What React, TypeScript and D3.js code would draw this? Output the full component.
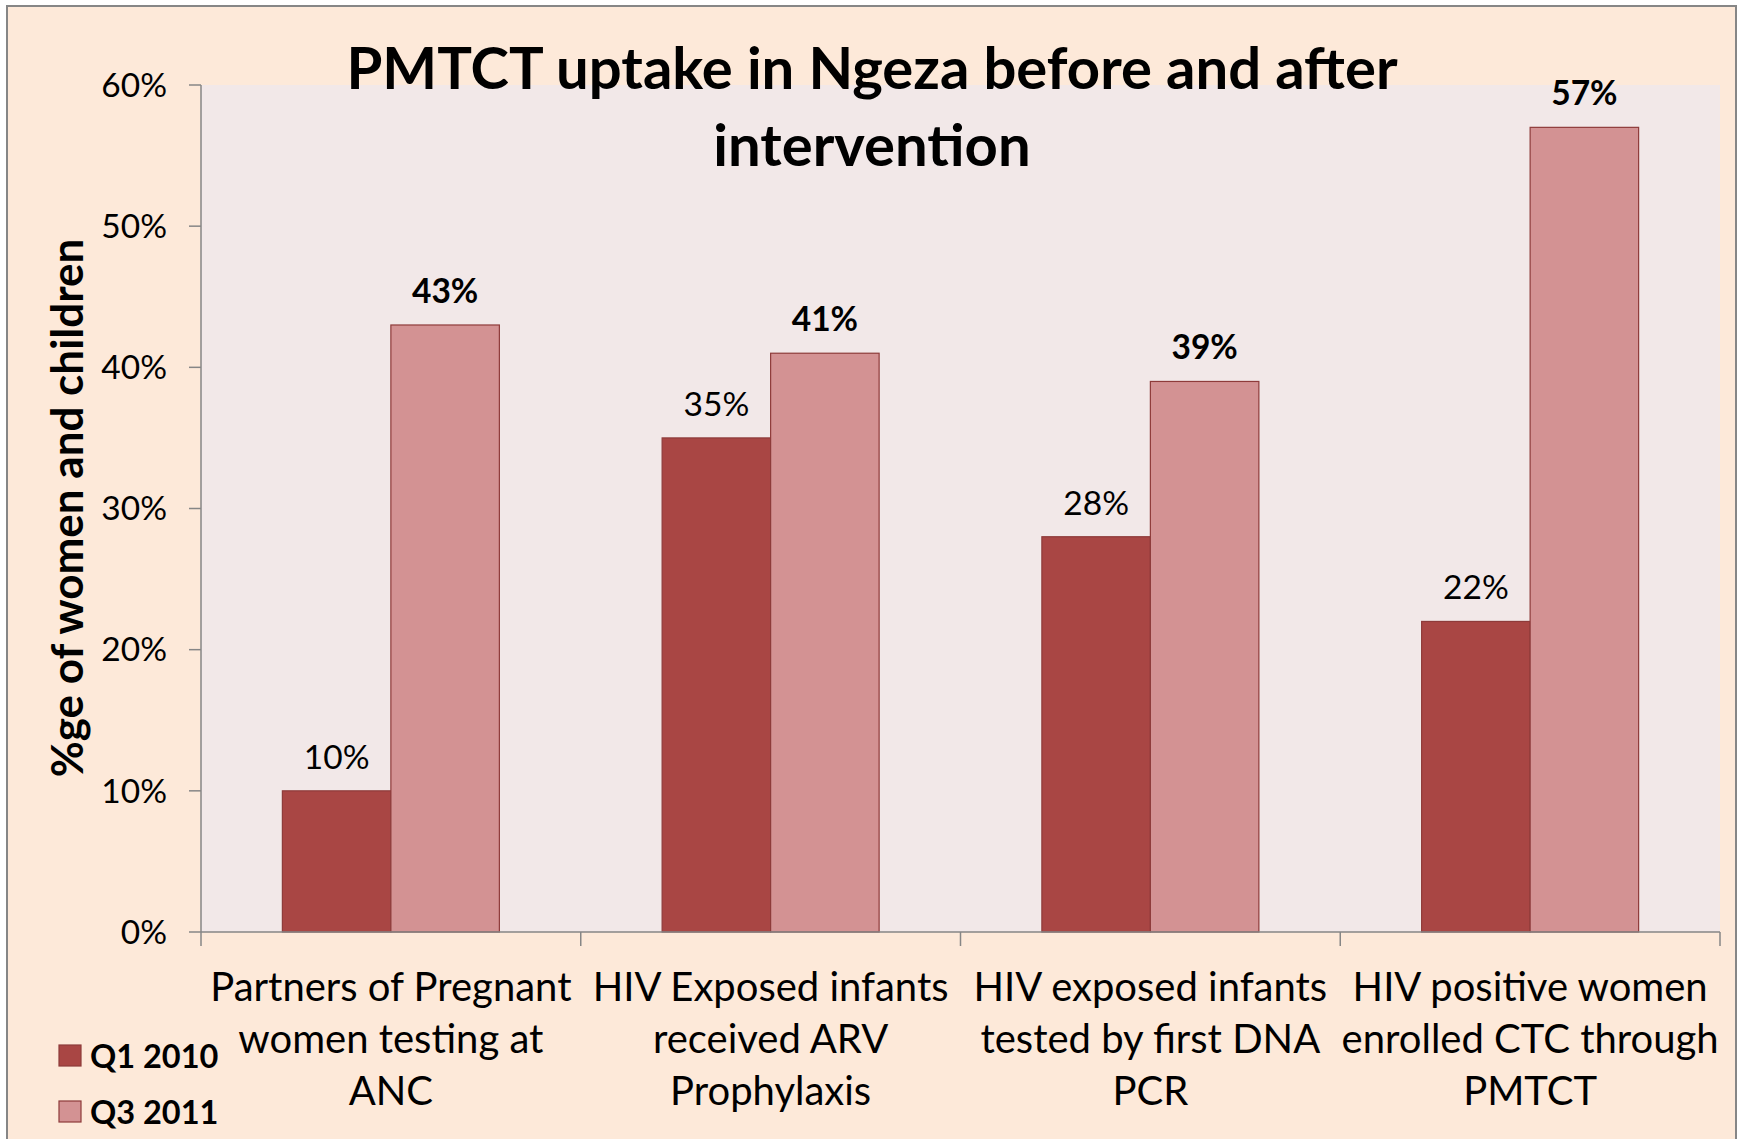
import React from "react";
import * as d3 from "d3";

const categories = [
  ["Partners of Pregnant", "women testing at", "ANC"],
  ["HIV Exposed infants", "received ARV", "Prophylaxis"],
  ["HIV exposed infants", "tested by first DNA", "PCR"],
  ["HIV positive women", "enrolled CTC through", "PMTCT"],
];
const seriesNames = ["Q1 2010", "Q3 2011"];
const q1Values = [10, 35, 28, 22];
const q3Values = [43, 41, 39, 57];
const yTicks = [0, 10, 20, 30, 40, 50, 60];
const colors = ["#A94644", "#D39293"];

const W = 1742, H = 1139;
const plot = { left: 201, right: 1720, top: 85, bottom: 932 };
const font = "Lato, 'Open Sans', sans-serif";

export default function App() {
  const x = d3.scaleBand<number>()
    .domain(d3.range(categories.length))
    .range([plot.left, plot.right]);
  const bw = x.bandwidth() / 3.5;
  const y = d3.scaleLinear().domain([0, 60]).range([plot.bottom, plot.top]);
  const series = [q1Values, q3Values];

  return (
    <svg width={W} height={H} style={{ position: "absolute", left: 0, top: 0 }} fontFamily={font}>
      <rect x={0} y={0} width={W} height={H} fill="#fff" />
      <rect x={7} y={6} width={1729} height={H} fill="#FDE9D9" stroke="#868686" strokeWidth={2} />
      <rect x={plot.left} y={plot.top} width={plot.right - plot.left} height={plot.bottom - plot.top} fill="#F2E8E8" />

      {series.map((vals, s) =>
        vals.map((v, i) => {
          const bx = x(i)! + bw * 0.75 + s * bw;
          return (
            <g key={`${s}-${i}`}>
              <rect x={bx} y={y(v)} width={bw} height={y(0) - y(v)} fill={colors[s]} stroke="#8E3B3A" strokeWidth={1.2} />
              <text x={bx + bw / 2} y={y(v) - 22} textAnchor="middle" fontSize={33.5}
                fontWeight={s === 1 ? "bold" : "normal"}>{`${v}%`}</text>
            </g>
          );
        })
      )}

      {/* axes */}
      <line x1={plot.left} x2={plot.left} y1={plot.top} y2={plot.bottom} stroke="#868686" strokeWidth={1.5} />
      <line x1={plot.left} x2={plot.right} y1={plot.bottom} y2={plot.bottom} stroke="#868686" strokeWidth={1.5} />
      {yTicks.map(t => (
        <g key={t}>
          <line x1={plot.left - 12} x2={plot.left} y1={y(t)} y2={y(t)} stroke="#868686" strokeWidth={1.5} />
          <text x={plot.left - 34} y={y(t)} dy="0.35em" textAnchor="end" fontSize={33.5}>{`${t}%`}</text>
        </g>
      ))}
      {d3.range(categories.length + 1).map(i => {
        const tx = i < categories.length ? x(i)! : plot.right;
        return <line key={i} x1={tx} x2={tx} y1={plot.bottom} y2={plot.bottom + 14} stroke="#868686" strokeWidth={1.5} />;
      })}
      {categories.map((lines, i) => (
        <text key={i} x={x(i)! + x.bandwidth() / 2} textAnchor="middle" fontSize={40}>
          {lines.map((l, j) => (
            <tspan key={j} x={x(i)! + x.bandwidth() / 2} y={1001 + j * 52}>{l}</tspan>
          ))}
        </text>
      ))}

      {/* y axis title */}
      <text transform={`translate(83, 508) rotate(-90)`} textAnchor="middle" fontSize={44} fontWeight="bold">
        %ge of women and children
      </text>

      {/* title */}
      <text textAnchor="middle" fontSize={58} fontWeight="bold">
        <tspan x={872} y={89}>PMTCT uptake in Ngeza before and after</tspan>
        <tspan x={872} y={166}>intervention</tspan>
      </text>

      {/* legend */}
      {seriesNames.map((n, s) => (
        <g key={n} transform={`translate(59, ${1045 + s * 56})`}>
          <rect width={22} height={21} fill={colors[s]} stroke="#8E3B3A" strokeWidth={1.2} />
          <text x={31} y={11} dy="0.36em" fontSize={32.5} fontWeight="bold">{n}</text>
        </g>
      ))}
    </svg>
  );
}
